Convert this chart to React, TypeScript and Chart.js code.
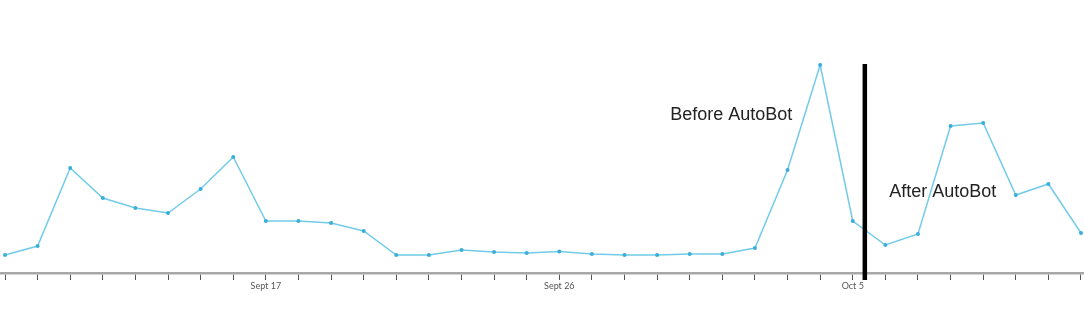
import React, { useEffect, useRef } from "react";
import { Chart, registerables } from "chart.js";

Chart.register(...registerables);

const categories = [
  "Sept 9", "Sept 10", "Sept 11", "Sept 12", "Sept 13", "Sept 14", "Sept 15", "Sept 16",
  "Sept 17", "Sept 18", "Sept 19", "Sept 20", "Sept 21", "Sept 22", "Sept 23", "Sept 24",
  "Sept 25", "Sept 26", "Sept 27", "Sept 28", "Sept 29", "Sept 30", "Oct 1", "Oct 2",
  "Oct 3", "Oct 4", "Oct 5", "Oct 6", "Oct 7", "Oct 8", "Oct 9", "Oct 10", "Oct 11", "Oct 12",
];

const shownTickLabels = ["Sept 17", "Sept 26", "Oct 5"];

const seriesValues = [
  18, 27, 105, 75, 65, 60, 84, 116, 52, 52, 50, 42, 18, 18, 23, 21, 20,
  21.5, 19, 18, 18, 19, 19, 25, 103, 208, 52, 28, 39, 147, 150, 78, 89, 40,
];

const dividerX = 26.37;
const dividerTop = 209;
const beforeLabel = { text: "Before AutoBot", x: 20.4, y: 153 };
const afterLabel = { text: "After AutoBot", x: 27.12, y: 76 };

export default function App() {
  const ref = useRef<HTMLCanvasElement | null>(null);

  useEffect(() => {
    if (!ref.current) return;
    const annotate = {
      id: "annotate",
      afterDatasetsDraw(chart: any) {
        const ctx = chart.ctx;
        const xs = chart.scales.x;
        const ys = chart.scales.y;
        ctx.save();
        const lx = xs.getPixelForValue(dividerX);
        ctx.strokeStyle = "#000";
        ctx.lineWidth = 4.5;
        ctx.beginPath();
        ctx.moveTo(lx, ys.getPixelForValue(dividerTop));
        ctx.lineTo(lx, chart.chartArea.bottom + 7);
        ctx.stroke();
        ctx.fillStyle = "#222";
        ctx.font = "18px 'Liberation Sans', Arial, sans-serif";
        ctx.textAlign = "left";
        ctx.textBaseline = "alphabetic";
        for (const l of [beforeLabel, afterLabel]) {
          ctx.fillText(l.text, xs.getPixelForValue(l.x), ys.getPixelForValue(l.y));
        }
        ctx.restore();
      },
    };
    const chart = new Chart(ref.current, {
      type: "line",
      data: {
        datasets: [
          {
            data: seriesValues.map((v, i) => ({ x: i, y: v })),
            borderColor: "#72cbe8",
            borderWidth: 1.5,
            pointRadius: 2,
            pointBackgroundColor: "#3aaed8",
            pointBorderColor: "#3aaed8",
            pointBorderWidth: 0,
            tension: 0,
            clip: false,
          },
        ],
      },
      options: {
        animation: false,
        responsive: true,
        maintainAspectRatio: false,
        layout: { autoPadding: false, padding: { top: 55, left: 0, right: 0, bottom: 0 } },
        plugins: { legend: { display: false }, tooltip: { enabled: false } },
        scales: {
          x: {
            type: "linear",
            min: -5 / 32.6,
            max: 33 + 3 / 32.6,
            afterBuildTicks: (scale: any) => {
              scale.ticks = categories.map((_, i) => ({ value: i }));
            },
            afterFit: (scale: any) => {
              scale.height = 41;
            },
            ticks: {
              autoSkip: false,
              maxRotation: 0,
              padding: 1,
              color: "#555",
              font: { family: "Lato", size: 9 },
              callback: (v: any) => {
                const c = categories[v as number];
                return shownTickLabels.includes(c) ? c : "";
              },
            },
            grid: {
              drawOnChartArea: false,
              drawTicks: true,
              tickLength: 7,
              color: "#555",
              lineWidth: 1,
            },
            border: { display: true, color: "#a8a8a8", width: 2.5 },
          },
          y: {
            display: false,
            min: 0,
            max: 218,
          },
        },
      },
      plugins: [annotate],
    });
    return () => chart.destroy();
  }, []);

  return (
    <div style={{ position: "fixed", left: 0, top: 0, width: 1084, height: 314, background: "#fff" }}>
      <canvas ref={ref} />
    </div>
  );
}
